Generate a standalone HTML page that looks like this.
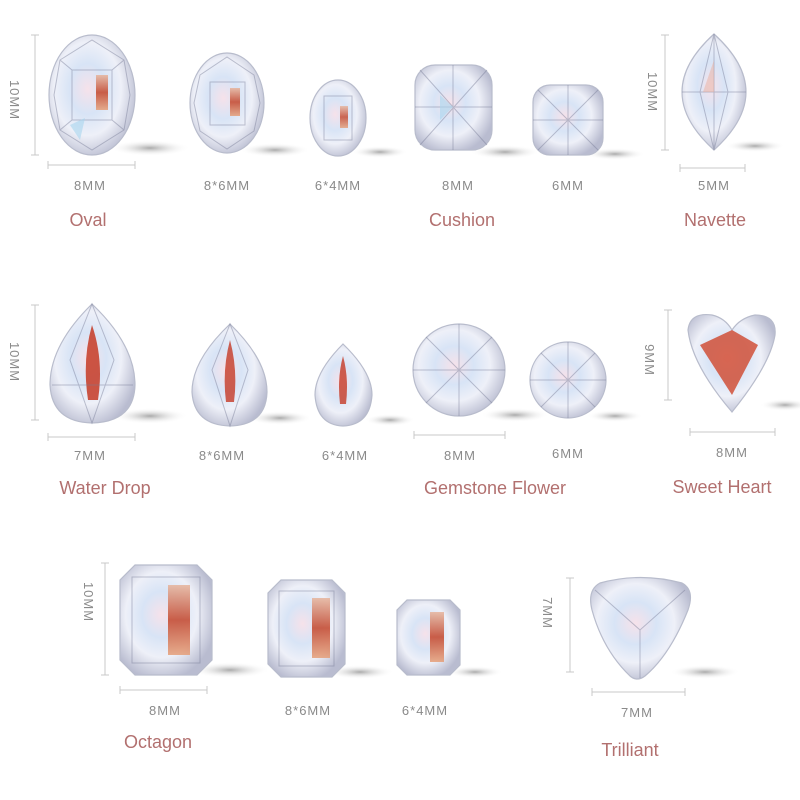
<!DOCTYPE html>
<html><head><meta charset="utf-8"><style>
html,body{margin:0;padding:0;background:#fff;width:800px;height:800px;overflow:hidden}
svg{display:block}
.d{font-family:"Liberation Sans",sans-serif;font-size:13px;fill:#8a8a8a;letter-spacing:1px;text-anchor:middle}
.l{font-family:"Liberation Sans",sans-serif;font-size:18px;fill:#b2706f;text-anchor:middle}
.ln{stroke:#c8c8c8;stroke-width:1;fill:none}
.g{stroke:#b8bccc;stroke-width:1.2}
.f{stroke:rgba(120,125,150,.45);stroke-width:1;fill:none}
</style></head><body>
<svg width="800" height="800" viewBox="0 0 800 800" xmlns="http://www.w3.org/2000/svg">
<defs>
<radialGradient id="gm" cx="45%" cy="45%" r="60%">
<stop offset="0" stop-color="#f6e2ea"/><stop offset=".35" stop-color="#d8e4f6"/><stop offset=".65" stop-color="#eef0f8"/><stop offset="1" stop-color="#b9bcd0"/></radialGradient>
<linearGradient id="rd" x1="0" y1="0" x2="0" y2="1"><stop offset="0" stop-color="#e6b49c"/><stop offset=".5" stop-color="#c4452a"/><stop offset="1" stop-color="#e5a07a"/></linearGradient>
<radialGradient id="sh" cx="50%" cy="50%" r="50%"><stop offset="0" stop-color="#aaa"/><stop offset="1" stop-color="#fff" stop-opacity="0"/></radialGradient>
</defs>

<g fill="url(#sh)">
<ellipse cx="150" cy="148" rx="40" ry="8"/><ellipse cx="275" cy="150" rx="35" ry="7"/><ellipse cx="380" cy="152" rx="28" ry="6"/>
<ellipse cx="505" cy="152" rx="35" ry="7"/><ellipse cx="615" cy="154" rx="30" ry="6"/><ellipse cx="755" cy="146" rx="30" ry="6"/>
<ellipse cx="150" cy="416" rx="38" ry="8"/><ellipse cx="280" cy="418" rx="32" ry="7"/><ellipse cx="390" cy="420" rx="25" ry="6"/>
<ellipse cx="515" cy="415" rx="34" ry="7"/><ellipse cx="615" cy="416" rx="28" ry="6"/><ellipse cx="785" cy="405" rx="25" ry="6"/>
<ellipse cx="230" cy="670" rx="40" ry="8"/><ellipse cx="360" cy="672" rx="34" ry="7"/><ellipse cx="475" cy="672" rx="28" ry="6"/>
<ellipse cx="705" cy="672" rx="35" ry="7"/>
</g>

<!-- Row1 -->
<path class="ln" d="M31 35H39M35 35V155M31 155H39M48 161V169M48 165H135M135 161V169"/>
<text class="d" transform="translate(10,100) rotate(90)">10MM</text>
<ellipse cx="92" cy="95" rx="43" ry="60" fill="url(#gm)" class="g"/>
<rect x="96" y="75" width="12" height="35" fill="url(#rd)" opacity=".85"/>
<path class="f" d="M60 60L92 40L124 60L130 95L124 130L92 150L60 130L54 95Z M72 70H112V120H72Z M60 60L72 70M124 60L112 70M60 130L72 120M124 130L112 120"/>
<path d="M70 125L85 118L80 140Z" fill="#a9d6ef" opacity=".6"/>
<ellipse cx="227" cy="103" rx="37" ry="50" fill="url(#gm)" class="g"/>
<rect x="230" y="88" width="10" height="28" fill="url(#rd)" opacity=".85"/>
<path class="f" d="M200 75L227 57L254 75L260 103L254 131L227 149L200 131L194 103Z M210 82H245V125H210Z"/>
<ellipse cx="338" cy="118" rx="28" ry="38" fill="url(#gm)" class="g"/>
<rect x="340" y="106" width="8" height="22" fill="url(#rd)" opacity=".8"/>
<path class="f" d="M324 96H352V140H324Z"/>
<rect x="415" y="65" width="77" height="85" rx="20" fill="url(#gm)" class="g"/>
<path class="f" d="M420 70L487 145M487 70L420 145M453 65V150M415 107H492"/>
<path d="M440 95L453 107L440 120Z" fill="#a9d6ef" opacity=".6"/>
<rect x="533" y="85" width="70" height="70" rx="17" fill="url(#gm)" class="g"/>
<path class="f" d="M538 90L598 150M598 90L538 150M568 85V155M533 120H603"/>
<path d="M714 34Q778 92 714 150Q650 92 714 34Z" fill="url(#gm)" class="g"/>
<path class="f" d="M714 34V150M682 92H746M714 34L700 92L714 150L728 92Z"/>
<path d="M703 92L714 60L714 92Z" fill="#e8b0a0" opacity=".5"/>
<path class="ln" d="M661 35H669M665 35V150M661 150H669M680 164V172M680 168H745M745 164V172"/>
<text class="d" transform="translate(648,92) rotate(90)">10MM</text>
<text class="d" x="90" y="190">8MM</text><text class="d" x="227" y="190">8*6MM</text><text class="d" x="338" y="190">6*4MM</text>
<text class="d" x="458" y="190">8MM</text><text class="d" x="568" y="190">6MM</text><text class="d" x="714" y="190">5MM</text>
<text class="l" x="88" y="226">Oval</text><text class="l" x="462" y="226">Cushion</text><text class="l" x="715" y="226">Navette</text>

<!-- Row2 -->
<path class="ln" d="M31 305H39M35 305V420M31 420H39M48 433V441M48 437H135M135 433V441"/>
<text class="d" transform="translate(10,362) rotate(90)">10MM</text>
<path d="M92 304Q50 345 50 385Q52 422 92 423Q134 422 135 385Q135 345 92 304Z" fill="url(#gm)" class="g"/>
<path d="M92 325Q82 360 88 400H98Q104 360 92 325Z" fill="#c63a25" opacity=".85"/>
<path class="f" d="M92 304L70 360L92 423L114 360Z M52 385H133"/>
<path d="M230 324Q192 360 192 392Q194 425 230 426Q266 425 267 392Q267 360 230 324Z" fill="url(#gm)" class="g"/>
<path d="M230 340Q222 370 226 402H234Q238 370 230 340Z" fill="#c63a25" opacity=".8"/>
<path class="f" d="M230 324L212 370L230 426L248 370Z"/>
<path d="M343 344Q315 372 315 395Q317 425 343 426Q370 425 372 395Q372 372 343 344Z" fill="url(#gm)" class="g"/>
<path d="M343 356Q337 378 340 404H346Q349 378 343 356Z" fill="#c63a25" opacity=".8"/>
<circle cx="459" cy="370" r="46" fill="url(#gm)" class="g"/>
<path class="f" d="M459 324V416M413 370H505M426 337L492 403M492 337L426 403"/>
<circle cx="568" cy="380" r="38" fill="url(#gm)" class="g"/>
<path class="f" d="M568 342V418M530 380H606M541 353L595 407M595 353L541 407"/>
<path class="ln" d="M414 431V439M414 435H505M505 431V439"/>
<path d="M688 330Q690 312 712 315Q725 318 732 330Q740 318 755 315Q777 315 775 335Q770 365 732 412Q692 365 688 330Z" fill="url(#gm)" class="g"/>
<path d="M700 345L732 330L758 345L732 395Z" fill="#d0462c" opacity=".8"/>
<path class="ln" d="M664 310H672M668 310V400M664 400H672M690 428V436M690 432H775M775 428V436"/>
<text class="d" transform="translate(645,360) rotate(90)">9MM</text>
<text class="d" x="90" y="460">7MM</text><text class="d" x="222" y="460">8*6MM</text><text class="d" x="345" y="460">6*4MM</text>
<text class="d" x="460" y="460">8MM</text><text class="d" x="568" y="458">6MM</text><text class="d" x="732" y="457">8MM</text>
<text class="l" x="105" y="494">Water Drop</text><text class="l" x="495" y="494">Gemstone Flower</text><text class="l" x="722" y="493">Sweet Heart</text>

<!-- Row3 -->
<path class="ln" d="M101 563H109M105 563V675M101 675H109M120 686V694M120 690H207M207 686V694"/>
<text class="d" transform="translate(84,602) rotate(90)">10MM</text>
<path d="M135 565H197L212 580V660L197 675H135L120 660V580Z" fill="url(#gm)" class="g"/>
<rect x="168" y="585" width="22" height="70" fill="url(#rd)" opacity=".85"/>
<path class="f" d="M132 577H200V663H132Z"/>
<path d="M281 580H332L345 593V664L332 677H281L268 664V593Z" fill="url(#gm)" class="g"/>
<rect x="312" y="598" width="18" height="60" fill="url(#rd)" opacity=".85"/>
<path class="f" d="M279 591H334V666H279Z"/>
<path d="M407 600H450L460 610V665L450 675H407L397 665V610Z" fill="url(#gm)" class="g"/>
<rect x="430" y="612" width="14" height="50" fill="url(#rd)" opacity=".85"/>
<path d="M600 583Q640 572 682 583Q695 590 688 610Q670 655 645 676Q637 682 630 676Q603 650 592 610Q587 590 600 583Z" fill="url(#gm)" class="g"/>
<path class="f" d="M595 590L640 630L685 590M640 630V678"/>
<path class="ln" d="M566 578H574M570 578V672M566 672H574M592 688V696M592 692H685M685 688V696"/>
<text class="d" transform="translate(543,613) rotate(90)">7MM</text>
<text class="d" x="165" y="715">8MM</text><text class="d" x="308" y="715">8*6MM</text><text class="d" x="425" y="715">6*4MM</text>
<text class="d" x="637" y="717">7MM</text>
<text class="l" x="158" y="748">Octagon</text><text class="l" x="630" y="756">Trilliant</text>
</svg>
</body></html>
